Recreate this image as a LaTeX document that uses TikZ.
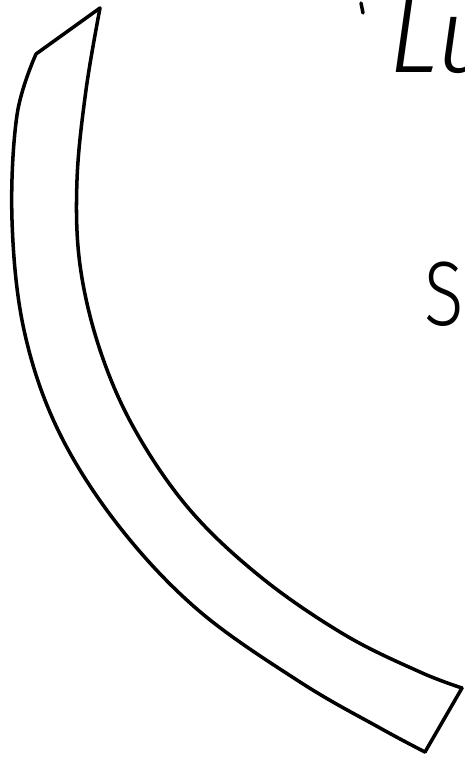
\documentclass[tikz,border=0pt]{standalone}
\usepackage{fontspec}
\setmainfont{Fira Sans Light}
\usepackage{tikz}
\usetikzlibrary{positioning,calc}

\tikzset{
    band/.style={line width=2pt, line join=round, line cap=round},
    sketchtext/.style={inner sep=0pt, font=\fontsize{60}{60}\selectfont\itshape}
}

\begin{document}
\begin{tikzpicture}[x=0.02cm, y=-0.02cm]
    % page frame
    \useasboundingbox (0,0) rectangle (464,764);
    \clip (0,0) rectangle (464,764);

    % corners of the band
    \coordinate (tip) at (100,8);
    \coordinate (kink) at (36,54);
    \coordinate (endin) at (462,688);
    \coordinate (endout) at (425,752);

    % outer edge
    \draw[band] (tip) -- (kink) plot[smooth, tension=0.6] coordinates
        {(36,54) (17,115) (12,220) (24,330) (58,430) (118,525) (198,610) (300,682) (380,728) (425,752)};
    % inner edge
    \draw[band] plot[smooth, tension=0.6] coordinates
        {(100,8) (86,90) (77,180) (80,265) (100,350) (135,430) (190,510) (262,578) (345,635) (420,672) (462,688)};
    % end of the band
    \draw[band] (endin) -- (endout);

    % texts
    \draw[band] (361,3) -- (363,13);
    \node[sketchtext, anchor=base west] (lu) at (388,72) {Lu};
    \node[sketchtext, font=\fontsize{52}{52}\selectfont, anchor=base west] (s) at (424,325) {\scalebox{0.8}[1]{S}};
\end{tikzpicture}
\end{document}
